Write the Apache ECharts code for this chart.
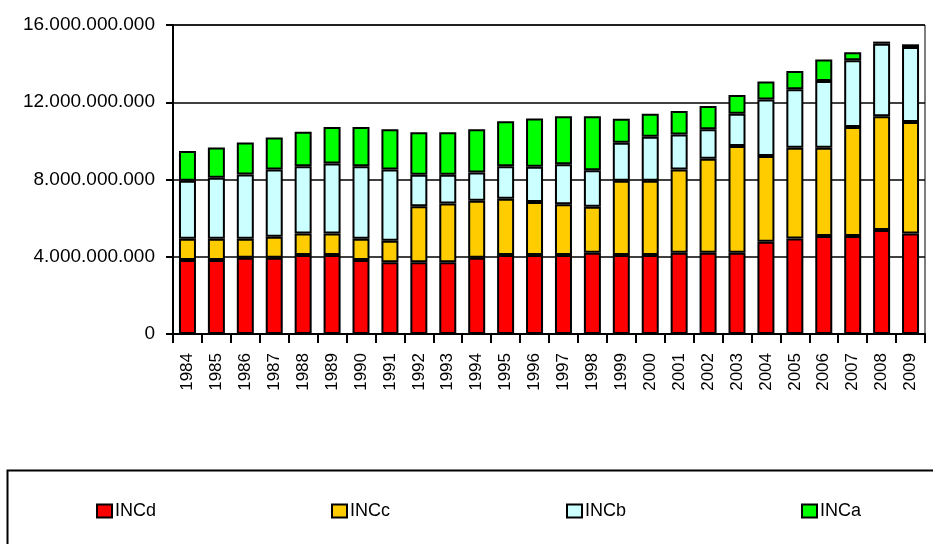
<!DOCTYPE html>
<html>
<head>
<meta charset="utf-8">
<script src="https://cdn.jsdelivr.net/npm/echarts@6/dist/echarts.min.js"></script>
<style>
  html, body { margin: 0; padding: 0; background: #fff; }
  #chart { width: 933px; height: 544px; }
</style>
</head>
<body>
<div id="chart"></div>
<script>
// years on the x axis
var years = ['1984','1985','1986','1987','1988','1989','1990','1991','1992','1993','1994','1995','1996',
             '1997','1998','1999','2000','2001','2002','2003','2004','2005','2006','2007','2008','2009'];

// values in billions
var incD = [3.83,3.83,3.95,3.95,4.09,4.09,3.83,3.71,3.71,3.71,3.95,4.09,4.09,
            4.09,4.21,4.09,4.09,4.21,4.21,4.21,4.78,4.95,5.07,5.07,5.38,5.21];
var incC = [1.10,1.10,0.98,1.08,1.12,1.12,1.10,1.12,2.91,3.05,2.95,2.91,2.75,
            2.63,2.38,3.84,3.84,4.31,4.86,5.53,4.44,4.69,4.57,5.65,5.90,5.77];
var incB = [3.00,3.16,3.33,3.49,3.48,3.62,3.76,3.69,1.62,1.48,1.46,1.69,1.82,
            2.07,1.89,1.97,2.28,1.81,1.53,1.67,2.92,3.03,3.46,3.45,3.75,3.88];
var incA = [1.55,1.57,1.65,1.65,1.78,1.89,2.03,2.08,2.21,2.21,2.24,2.33,2.50,
            2.49,2.80,1.24,1.20,1.22,1.21,0.97,0.93,0.95,1.11,0.42,0.11,0.14];

var yTicks = [0, 4000000000, 8000000000, 12000000000, 16000000000];

var names = ['INCd', 'INCc', 'INCb', 'INCa'];
var colors = ['#ff0000', '#ffcc00', '#ccffff', '#00ff00'];
var dataSets = [incD, incC, incB, incA];

function dots(v) {
  return String(v).replace(/\B(?=(\d{3})+(?!\d))/g, '.');
}

var series = [];
for (var i = 0; i < names.length; i++) {
  series.push({
    name: names[i],
    type: 'bar',
    stack: 'total',
    barWidth: 17,
    data: dataSets[i].map(function (v) { return Math.round(v * 1e9); }),
    itemStyle: { color: colors[i], borderColor: '#000', borderWidth: 2 }
  });
}

// one legend per item so they sit where the original puts them
var legendLeft = [91, 326, 561, 796];
var legends = [];
for (var j = 0; j < names.length; j++) {
  legends.push({
    data: [names[j]],
    left: legendLeft[j],
    top: 497,
    icon: 'rect',
    itemWidth: 15,
    itemHeight: 13,
    textStyle: { fontFamily: 'Liberation Sans', fontSize: 18, color: '#000', padding: [0, 0, 0, -2] }
  });
}

var chart = echarts.init(document.getElementById('chart'));
chart.setOption({
  animation: false,
  backgroundColor: '#fff',
  grid: { left: 173, right: 8, top: 25, bottom: 210, show: true, borderColor: '#000', borderWidth: 1 },
  legend: legends,
  graphic: [{
    type: 'rect',
    left: 5, top: 468,
    shape: { width: 940, height: 90 },
    style: { fill: 'none', stroke: '#000', lineWidth: 2 }
  }],
  xAxis: {
    type: 'category',
    data: years,
    axisLine: { lineStyle: { color: '#000', width: 2 } },
    axisTick: { show: true, interval: 0, length: 9, lineStyle: { color: '#000', width: 2 } },
    axisLabel: { interval: 0, rotate: 90, margin: 19, fontFamily: 'Liberation Sans', fontSize: 17, color: '#000' }
  },
  yAxis: {
    type: 'value',
    min: yTicks[0],
    max: yTicks[yTicks.length - 1],
    interval: yTicks[1] - yTicks[0],
    axisLine: { show: true, lineStyle: { color: '#000', width: 2 } },
    axisTick: { show: true, length: 7, lineStyle: { color: '#000', width: 2 } },
    axisLabel: { margin: 18, fontFamily: 'Liberation Sans', fontSize: 19, color: '#000', formatter: dots },
    splitLine: { lineStyle: { color: '#000', width: 1.5 } }
  },
  series: series
});
</script>
</body>
</html>
